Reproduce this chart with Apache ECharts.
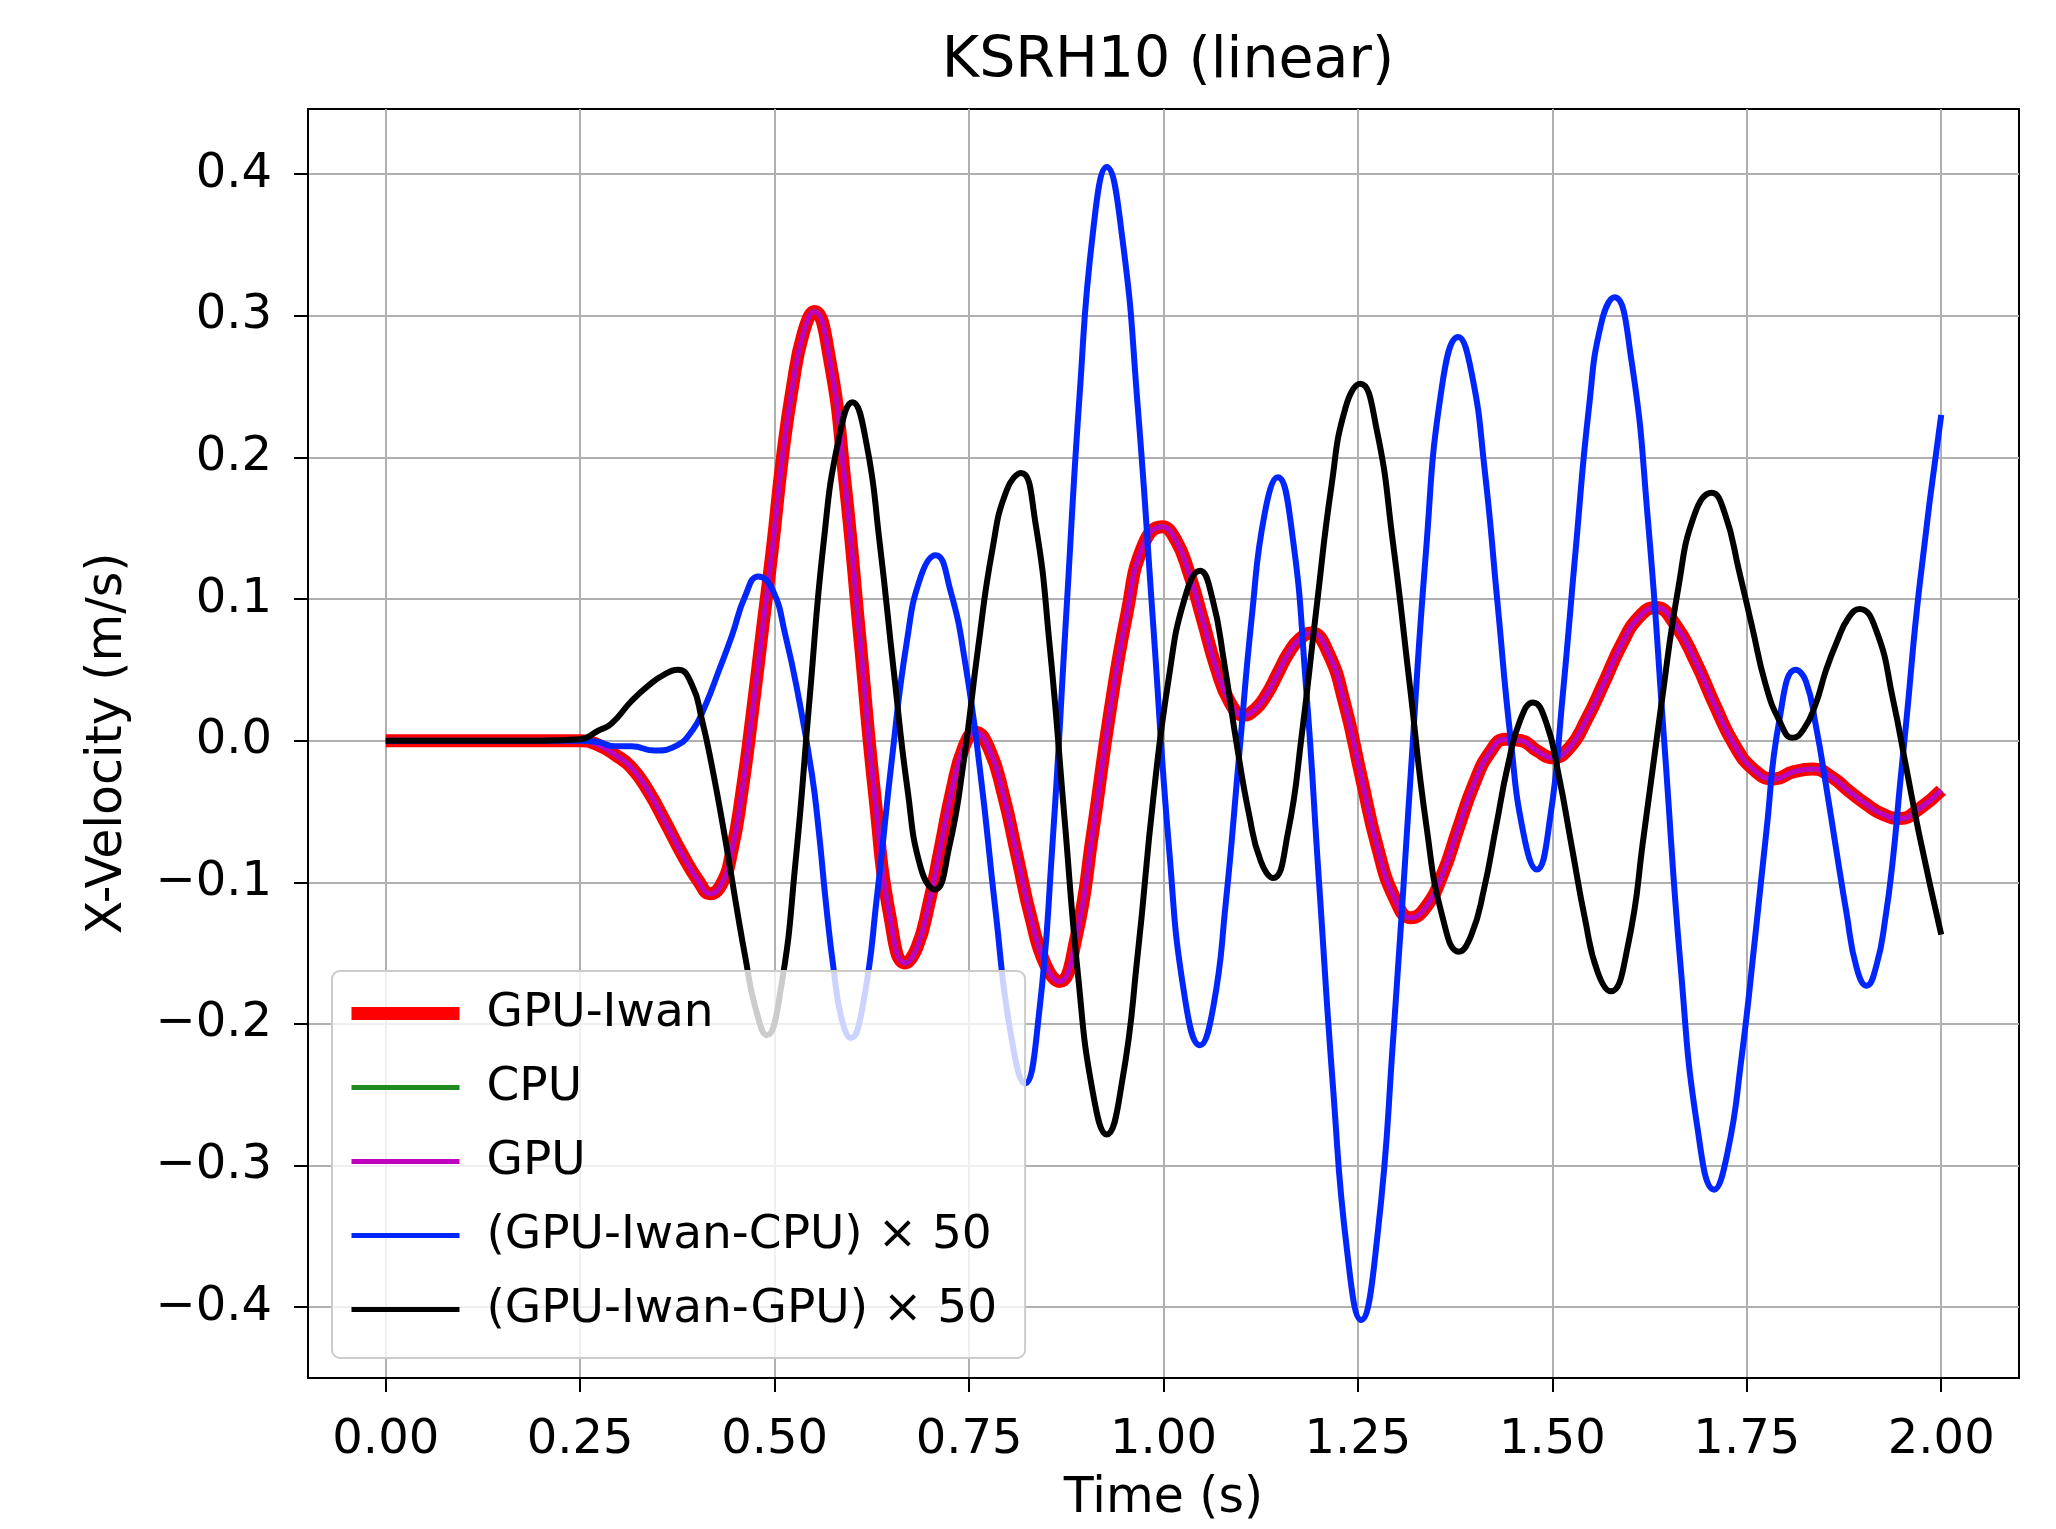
<!DOCTYPE html>
<html>
<head>
<meta charset="utf-8">
<script src="https://cdn.jsdelivr.net/npm/echarts@6/dist/echarts.min.js"></script>
<style>
  html, body { margin: 0; padding: 0; background: #fff; }
  #chart { width: 2056px; height: 1529px; }
</style>
</head>
<body>
<div id="chart"></div>
<script>
// tick positions
const xTicks = [0, 0.25, 0.5, 0.75, 1.0, 1.25, 1.5, 1.75, 2.0];
const yTicks = [-0.4, -0.3, -0.2, -0.1, 0, 0.1, 0.2, 0.3, 0.4];

// GPU-Iwan / CPU / GPU velocity (the three overlap)
const mainTime = [
  0, 0.1, 0.2, 0.25, 0.273, 0.295, 0.316, 0.338, 0.359, 0.381,
  0.402, 0.417, 0.432, 0.445, 0.458, 0.471, 0.484, 0.497, 0.51, 0.523,
  0.537, 0.551, 0.5705, 0.59, 0.6095, 0.629, 0.6485, 0.668, 0.683, 0.698,
  0.713, 0.728, 0.743, 0.758, 0.776, 0.794, 0.812, 0.83, 0.848, 0.866,
  0.888, 0.909, 0.931, 0.953, 0.974, 0.998, 1.0155, 1.033, 1.0505, 1.068,
  1.0855, 1.103, 1.1175, 1.132, 1.1465, 1.161, 1.1755, 1.19, 1.211, 1.233,
  1.254, 1.275, 1.297, 1.318, 1.338, 1.359, 1.379, 1.399, 1.42, 1.44,
  1.46, 1.48, 1.5, 1.522, 1.544, 1.5665, 1.589, 1.611, 1.633, 1.658,
  1.684, 1.709, 1.734, 1.76, 1.785, 1.81, 1.835, 1.86, 1.88, 1.904,
  1.925, 1.947, 1.972, 2.0
];
const gpuIwanVel = [
  0, 0, 0, 0, -0.003, -0.01, -0.019, -0.036, -0.057, -0.08,
  -0.099, -0.108, -0.101, -0.078, -0.036, 0.018, 0.077, 0.135, 0.2, 0.25,
  0.288, 0.303, 0.27, 0.185, 0.073, -0.04, -0.125, -0.157, -0.146, -0.116,
  -0.076, -0.035, -0.005, 0.006, -0.006, -0.038, -0.082, -0.126, -0.158, -0.17,
  -0.138, -0.065, 0.02, 0.09, 0.138, 0.151, 0.142, 0.118, 0.085, 0.051,
  0.027, 0.018, 0.022, 0.032, 0.047, 0.062, 0.072, 0.076, 0.063, 0.026,
  -0.025, -0.075, -0.111, -0.125, -0.117, -0.094, -0.062, -0.031, -0.008, 0.001,
  0.0, -0.007, -0.012, -0.005, 0.015, 0.041, 0.068, 0.087, 0.094, 0.082,
  0.056, 0.025, -0.003, -0.021, -0.027, -0.022, -0.02, -0.026, -0.035, -0.045,
  -0.052, -0.055, -0.048, -0.035
];
const cpuVel = [
  0, 0, 0, 0, -0.003, -0.01, -0.019, -0.036, -0.057, -0.08,
  -0.099, -0.108, -0.101, -0.078, -0.036, 0.018, 0.077, 0.135, 0.2, 0.25,
  0.288, 0.303, 0.27, 0.185, 0.073, -0.04, -0.125, -0.157, -0.146, -0.116,
  -0.076, -0.035, -0.005, 0.006, -0.006, -0.038, -0.082, -0.126, -0.158, -0.17,
  -0.138, -0.065, 0.02, 0.09, 0.138, 0.151, 0.142, 0.118, 0.085, 0.051,
  0.027, 0.018, 0.022, 0.032, 0.047, 0.062, 0.072, 0.076, 0.063, 0.026,
  -0.025, -0.075, -0.111, -0.125, -0.117, -0.094, -0.062, -0.031, -0.008, 0.001,
  0.0, -0.007, -0.012, -0.005, 0.015, 0.041, 0.068, 0.087, 0.094, 0.082,
  0.056, 0.025, -0.003, -0.021, -0.027, -0.022, -0.02, -0.026, -0.035, -0.045,
  -0.052, -0.055, -0.048, -0.035
];
const gpuVel = [
  0, 0, 0, 0, -0.003, -0.01, -0.019, -0.036, -0.057, -0.08,
  -0.099, -0.108, -0.101, -0.078, -0.036, 0.018, 0.077, 0.135, 0.2, 0.25,
  0.288, 0.303, 0.27, 0.185, 0.073, -0.04, -0.125, -0.157, -0.146, -0.116,
  -0.076, -0.035, -0.005, 0.006, -0.006, -0.038, -0.082, -0.126, -0.158, -0.17,
  -0.138, -0.065, 0.02, 0.09, 0.138, 0.151, 0.142, 0.118, 0.085, 0.051,
  0.027, 0.018, 0.022, 0.032, 0.047, 0.062, 0.072, 0.076, 0.063, 0.026,
  -0.025, -0.075, -0.111, -0.125, -0.117, -0.094, -0.062, -0.031, -0.008, 0.001,
  0.0, -0.007, -0.012, -0.005, 0.015, 0.041, 0.068, 0.087, 0.094, 0.082,
  0.056, 0.025, -0.003, -0.021, -0.027, -0.022, -0.02, -0.026, -0.035, -0.045,
  -0.052, -0.055, -0.048, -0.035
];

// (GPU-Iwan - CPU) x 50
const diffCpuTime = [
  0, 0.2, 0.25, 0.273, 0.295, 0.316, 0.346, 0.372, 0.394, 0.411,
  0.428, 0.445, 0.462, 0.479, 0.497, 0.514, 0.531, 0.548, 0.557, 0.566,
  0.576, 0.586, 0.598, 0.614, 0.632, 0.651, 0.67, 0.688, 0.707, 0.726,
  0.745, 0.765, 0.784, 0.803, 0.822, 0.8395, 0.857, 0.8745, 0.892, 0.9095,
  0.927, 0.947, 0.967, 0.987, 1.007, 1.027, 1.047, 1.064, 1.08, 1.097,
  1.114, 1.13, 1.147, 1.165, 1.183, 1.2, 1.218, 1.236, 1.254, 1.275,
  1.296, 1.3165, 1.337, 1.358, 1.379, 1.396, 1.413, 1.4295, 1.446, 1.463,
  1.48, 1.497, 1.513, 1.53, 1.547, 1.563, 1.58, 1.601, 1.623, 1.644,
  1.665, 1.687, 1.708, 1.7255, 1.743, 1.7605, 1.775, 1.792, 1.813, 1.826,
  1.839, 1.852, 1.865, 1.878, 1.891, 1.904, 1.917, 1.928, 1.938, 1.947,
  1.955, 1.972, 2.0
];
const diffCpuVel = [
  0, 0, 0, -0.001, -0.004, -0.004, -0.007, -0.004, 0.007, 0.025,
  0.049, 0.074, 0.102, 0.116, 0.107, 0.074, 0.03, -0.024, -0.065, -0.115,
  -0.162, -0.196, -0.21, -0.185, -0.108, -0.012, 0.07, 0.116, 0.131, 0.106,
  0.055, -0.025, -0.12, -0.205, -0.242, -0.195, -0.075, 0.085, 0.243, 0.36,
  0.405, 0.355, 0.235, 0.08, -0.075, -0.18, -0.215, -0.188, -0.115, -0.012,
  0.09, 0.16, 0.186, 0.148, 0.04, -0.1, -0.245, -0.36, -0.409, -0.35,
  -0.205, -0.035, 0.13, 0.25, 0.285, 0.26, 0.191, 0.097, 0.003, -0.066,
  -0.091, -0.055, 0.03, 0.135, 0.235, 0.295, 0.313, 0.271, 0.155, -0.002,
  -0.16, -0.275, -0.317, -0.29, -0.225, -0.14, -0.065, 0.015, 0.05, 0.042,
  0.01, -0.032, -0.077, -0.121, -0.16, -0.173, -0.158, -0.126, -0.083, -0.031,
  0.013, 0.109, 0.23
];

// (GPU-Iwan - GPU) x 50
const diffGpuTime = [
  0, 0.2, 0.25, 0.273, 0.29, 0.316, 0.338, 0.359, 0.376, 0.394,
  0.406, 0.419, 0.436, 0.453, 0.462, 0.475, 0.49, 0.508, 0.527, 0.545,
  0.563, 0.582, 0.6, 0.618, 0.635, 0.653, 0.671, 0.688, 0.706, 0.7245,
  0.743, 0.7615, 0.78, 0.7985, 0.817, 0.835, 0.854, 0.872, 0.89, 0.909,
  0.927, 0.947, 0.967, 0.987, 1.007, 1.027, 1.047, 1.063, 1.078, 1.094,
  1.11, 1.125, 1.141, 1.16, 1.178, 1.197, 1.216, 1.234, 1.253, 1.274,
  1.295, 1.3165, 1.338, 1.359, 1.38, 1.396, 1.412, 1.4275, 1.443, 1.459,
  1.475, 1.492, 1.508, 1.525, 1.542, 1.558, 1.575, 1.597, 1.618, 1.64,
  1.662, 1.683, 1.705, 1.722, 1.74, 1.757, 1.774, 1.792, 1.809, 1.823,
  1.838, 1.852, 1.866, 1.881, 1.895, 1.917, 1.938, 1.955, 1.972, 2.0
];
const diffGpuVel = [
  0, 0, 0.001, 0.007, 0.012, 0.028, 0.039, 0.047, 0.05, 0.039,
  0.016, -0.017, -0.068, -0.124, -0.152, -0.188, -0.208, -0.175, -0.085, 0.03,
  0.14, 0.212, 0.239, 0.21, 0.14, 0.05, -0.035, -0.09, -0.105, -0.075,
  -0.015, 0.065, 0.135, 0.177, 0.189, 0.155, 0.065, -0.05, -0.165, -0.248,
  -0.278, -0.24, -0.15, -0.04, 0.045, 0.1, 0.12, 0.1, 0.055, -0.002,
  -0.052, -0.085, -0.097, -0.065, 0.005, 0.095, 0.18, 0.235, 0.252, 0.22,
  0.14, 0.04, -0.06, -0.125, -0.149, -0.137, -0.105, -0.061, -0.017, 0.015,
  0.027, 0.013, -0.024, -0.075, -0.126, -0.163, -0.177, -0.145, -0.065, 0.025,
  0.108, 0.16, 0.175, 0.16, 0.12, 0.08, 0.04, 0.014, 0.002, 0.008,
  0.025, 0.05, 0.07, 0.087, 0.093, 0.077, 0.029, -0.019, -0.067, -0.137
];

const FONT = "DejaVu Sans";

function pairs(ts, vs) {
  return ts.map((t, i) => [t, vs[i]]);
}

function traceSeries(name, ts, vs, color, width) {
  return {
    name: name,
    type: "line",
    data: pairs(ts, vs),
    showSymbol: false,
    symbol: "none",
    smooth: 0.5,
    lineStyle: { color: color, width: width, join: "round", cap: "butt" },
    itemStyle: { color: color },
    emphasis: { disabled: true },
  };
}

function legendItem(name, width) {
  return { name: name, lineStyle: { width: width, cap: "butt" } };
}

let chart = echarts.init(document.getElementById("chart"));

let option = {
  animation: false,
  backgroundColor: "#ffffff",
  title: {
    text: "KSRH10 (linear)",
    left: 1163,
    top: 29,
    textAlign: "center",
    textStyle: { fontFamily: FONT, fontSize: 57, fontWeight: "normal", color: "#000" },
  },
  grid: {
    left: 308,
    right: 37,
    top: 109,
    bottom: 146,
    show: true,
    borderColor: "#000",
    borderWidth: 2,
    containLabel: false,
  },
  legend: {
    orient: "vertical",
    left: 332,
    top: 971,
    padding: [19, 28, 25, 13],
    itemWidth: 108,
    itemHeight: 20,
    itemGap: 27,
    backgroundColor: "rgba(255,255,255,0.8)",
    borderColor: "#cccccc",
    borderWidth: 2,
    borderRadius: 8,
    itemStyle: { opacity: 0 },
    textStyle: { fontFamily: FONT, fontSize: 47, color: "#000", padding: [0, 0, 0, 22] },
    data: [
      legendItem("GPU-Iwan", 13),
      legendItem("CPU", 5),
      legendItem("GPU", 5),
      legendItem("(GPU-Iwan-CPU) × 50", 5),
      legendItem("(GPU-Iwan-GPU) × 50", 5),
    ],
  },
  xAxis: {
    type: "value",
    min: -0.1,
    max: 2.1,
    name: "Time (s)",
    nameLocation: "middle",
    nameGap: 97,
    nameTextStyle: { fontFamily: FONT, fontSize: 49, color: "#000" },
    axisLine: { show: true, onZero: false, lineStyle: { color: "#000", width: 2 } },
    axisTick: { show: true, length: 14, customValues: xTicks, lineStyle: { color: "#000", width: 2 } },
    axisLabel: {
      customValues: xTicks,
      margin: 39,
      fontFamily: FONT,
      fontSize: 48,
      color: "#000",
      formatter: (v) => v.toFixed(2),
    },
    splitLine: { show: true, lineStyle: { color: "#b0b0b0", width: 2 } },
  },
  yAxis: {
    type: "value",
    min: -0.45,
    max: 0.446,
    name: "X-Velocity (m/s)",
    nameLocation: "middle",
    nameGap: 175,
    nameTextStyle: { fontFamily: FONT, fontSize: 49, color: "#000" },
    axisLine: { show: true, onZero: false, lineStyle: { color: "#000", width: 2 } },
    axisTick: { show: true, length: 14, customValues: yTicks, lineStyle: { color: "#000", width: 2 } },
    axisLabel: {
      customValues: yTicks,
      margin: 36,
      fontFamily: FONT,
      fontSize: 48,
      color: "#000",
      formatter: (v) => v.toFixed(1).replace("-", "\u2212"),
    },
    splitLine: { show: true, lineStyle: { color: "#b0b0b0", width: 2 } },
  },
  series: [
    traceSeries("GPU-Iwan", mainTime, gpuIwanVel, "#ff0000", 13),
    traceSeries("CPU", mainTime, cpuVel, "#1f8a1f", 5),
    traceSeries("GPU", mainTime, gpuVel, "#bf00bf", 5),
    traceSeries("(GPU-Iwan-CPU) × 50", diffCpuTime, diffCpuVel, "#0026ff", 6),
    traceSeries("(GPU-Iwan-GPU) × 50", diffGpuTime, diffGpuVel, "#000000", 6),
  ],
};

chart.setOption(option);
</script>
</body>
</html>
